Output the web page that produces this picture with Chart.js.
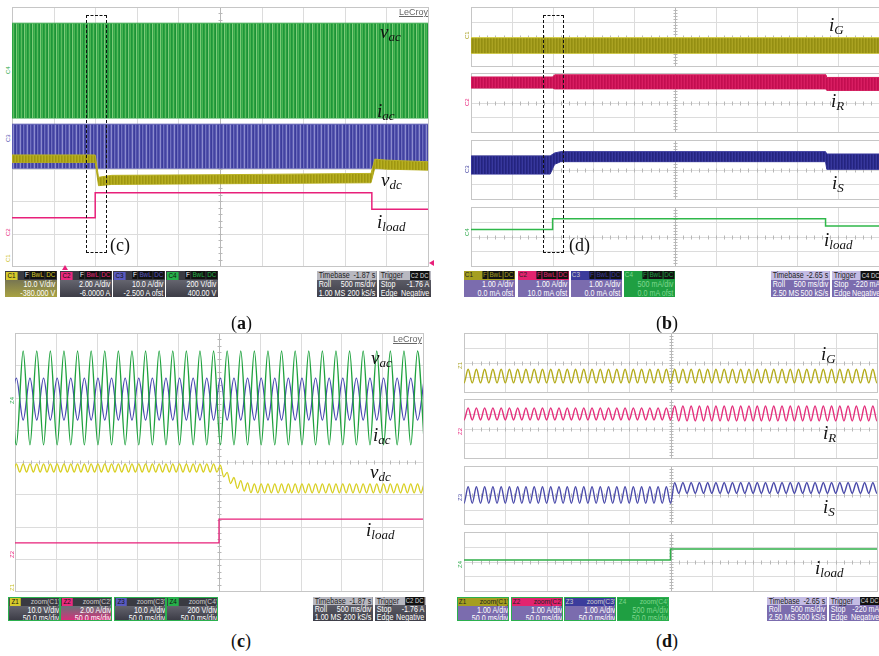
<!DOCTYPE html>
<html>
<head>
<meta charset="utf-8">
<script src="https://cdn.jsdelivr.net/npm/chart.js@4.4.0/dist/chart.umd.min.js"></script>
<style>
body{margin:0;width:879px;height:656px;background:#fff;position:relative;overflow:hidden;font-family:"Liberation Sans",Arial,sans-serif}
.lbl{position:absolute;font-family:"Liberation Serif","Times New Roman",serif;font-style:italic;font-size:19px;color:#111;line-height:1;white-space:nowrap}
.lbl sub{font-size:13px;position:relative;top:3px;vertical-align:baseline}
.cap{position:absolute;font-family:"Liberation Serif","Times New Roman",serif;font-size:18px;color:#111;line-height:1;white-space:nowrap}
.dash{position:absolute;border:1.5px dashed #111;box-sizing:border-box}
.lec{position:absolute;font-size:9px;color:#666;text-decoration:underline;line-height:1}
.mk{position:absolute;font-size:6px;line-height:1;transform:rotate(-90deg);transform-origin:left top}
.sb{position:absolute;overflow:hidden;color:#fff;font-family:"Liberation Sans",Arial,sans-serif;font-size:8.5px;line-height:8.5px;box-sizing:border-box;white-space:nowrap}
.sb .in{transform:scaleX(0.84);transform-origin:0 0}
.sb .hd{display:flex;justify-content:space-between;align-items:center;font-size:7.5px;padding:0 1px}
.sb .r{display:flex;justify-content:space-between;padding:0 2px}
.sb .tg{padding:0 2px;line-height:8px}
.sb .tgs span{background:#111;padding:0 1px;margin-left:1px;line-height:7px}
</style>
</head>
<body>
<script>
// ---- (a) slow record, 500 ms/div, values in divisions ----
const vacA_t = [0, 10], vacA_hi = [7.50, 7.50], vacA_lo = [4.57, 4.57];
const iacA_t = [0, 10], iacA_hi = [4.38, 4.38], iacA_lo = [3.02, 3.02];
const vdcA_t  = [0, 2.0, 2.08, 2.4, 5.0, 8.63, 8.72, 9.0, 10];
const vdcA_hi = [3.43, 3.43, 2.74, 2.80, 2.82, 2.86, 3.30, 3.27, 3.22];
const vdcA_lo = [3.20, 3.20, 2.48, 2.52, 2.54, 2.57, 3.02, 2.99, 2.96];
const iloadA_t = [0, 2.0, 2.0, 8.65, 8.65, 10];
const iloadA_v = [1.49, 1.49, 2.26, 2.26, 1.75, 1.75];

// ---- (b) slow record, four channels ----
const iGB_t = [0, 10], iGB_hi = [1.92, 1.92], iGB_lo = [0.86, 0.86];
const iRB_t = [0, 2.0, 2.05, 8.7, 8.72, 10];
const iRB_hi = [3.73, 3.73, 3.88, 3.88, 3.70, 3.70];
const iRB_lo = [2.98, 2.98, 2.92, 2.92, 2.82, 2.82];
const iSB_t = [0, 1.94, 2.05, 2.2, 8.69, 8.72, 10];
const iSB_hi = [2.92, 2.92, 3.12, 3.21, 3.21, 3.05, 3.05];
const iSB_lo = [1.69, 1.69, 2.35, 2.53, 2.53, 2.01, 2.01];
const iloadB_t = [0, 2.0, 2.0, 8.69, 8.69, 10];
const iloadB_v = [2.47, 2.47, 3.21, 3.21, 2.71, 2.71];

// ---- (c) zoom 50 ms/div: peaks and troughs of each wave ----
const vacC_t0 = -0.1333, vacC_dt = 0.16667;
const vacC = [7.44,4.53,7.44,4.53,7.44,4.53,7.44,4.53,7.44,4.53,
  7.44,4.53,7.44,4.53,7.44,4.53,7.44,4.53,7.44,4.53,
  7.44,4.53,7.44,4.53,7.44,4.53,7.44,4.53,7.44,4.53,
  7.44,4.53,7.44,4.53,7.44,4.53,7.44,4.53,7.44,4.53,
  7.44,4.53,7.44,4.53,7.44,4.53,7.44,4.53,7.44,4.53,
  7.44,4.53,7.44,4.53,7.44,4.53,7.44,4.53,7.44,4.53,
  7.44,4.53];
const iacC_t0 = -0.1333, iacC_dt = 0.16667;
const iacC = [5.30,6.60,5.30,6.60,5.30,6.60,5.30,6.60,5.30,6.60,
  5.30,6.60,5.30,6.60,5.30,6.60,5.30,6.60,5.30,6.60,
  5.30,6.60,5.30,6.60,5.30,6.60,5.30,6.60,5.30,6.60,
  5.30,6.60,5.30,6.60,5.30,6.60,5.30,6.60,5.30,6.60,
  5.30,6.60,5.30,6.60,5.30,6.60,5.30,6.60,5.30,6.60,
  5.30,6.60,5.30,6.60,5.30,6.60,5.30,6.60,5.30,6.60,
  5.30,6.60];
const vdcC_t0 = -0.1333, vdcC_dt = 0.08333;
const vdcC = [3.94,3.69,3.94,3.69,3.94,3.69,3.94,3.69,3.94,3.69,
  3.94,3.69,3.94,3.69,3.94,3.69,3.94,3.69,3.94,3.69,
  3.94,3.69,3.94,3.69,3.94,3.69,3.94,3.69,3.94,3.69,
  3.94,3.69,3.94,3.69,3.94,3.69,3.94,3.69,3.94,3.69,
  3.94,3.69,3.94,3.69,3.94,3.69,3.94,3.69,3.94,3.69,
  3.94,3.69,3.94,3.69,3.94,3.69,3.94,3.69,3.94,3.69,
  3.94,3.69,
  3.90,3.54,3.68,3.33,3.52,3.18,3.42,3.10,3.35,3.05,3.32,
  3.04,3.32,3.04,3.32,3.04,3.32,3.04,3.32,3.04,3.32,
  3.04,3.32,3.04,3.32,3.04,3.32,3.04,3.32,3.04,3.32,
  3.04,3.32,3.04,3.32,3.04,3.32,3.04,3.32,3.04,3.32,
  3.04,3.32,3.04,3.32,3.04,3.32,3.04,3.32,3.04,3.32,
  3.04,3.32,3.04,3.32,3.04,3.32,3.04,3.32,3.04,3.32,
  3.04,3.32];
const iloadC_t = [0, 5.0, 5.0, 10];
const iloadC_v = [1.49, 1.49, 2.23, 2.23];

// ---- (d) zoom 50 ms/div ----
const dD_t0 = -0.1, dD_dt = 0.1;
const iGD = [1.54,0.62,1.54,0.62,1.54,0.62,1.54,0.62,1.54,0.62,
  1.54,0.62,1.54,0.62,1.54,0.62,1.54,0.62,1.54,0.62,
  1.54,0.62,1.54,0.62,1.54,0.62,1.54,0.62,1.54,0.62,
  1.54,0.62,1.54,0.62,1.54,0.62,1.54,0.62,1.54,0.62,
  1.54,0.62,1.54,0.62,1.54,0.62,1.54,0.62,1.54,0.62,
  1.54,0.62,1.54,0.62,1.54,0.62,1.54,0.62,1.54,0.62,
  1.54,0.62,1.54,0.62,1.54,0.62,1.54,0.62,1.54,0.62,
  1.54,0.62,1.54,0.62,1.54,0.62,1.54,0.62,1.54,0.62,
  1.54,0.62,1.54,0.62,1.54,0.62,1.54,0.62,1.54,0.62,
  1.54,0.62,1.54,0.62,1.54,0.62,1.54,0.62,1.54,0.62,
  1.54,0.62,1.54];
const iRD = [3.39,2.58,3.39,2.58,3.39,2.58,3.39,2.58,3.39,2.58,
  3.39,2.58,3.39,2.58,3.39,2.58,3.39,2.58,3.39,2.58,
  3.39,2.58,3.39,2.58,3.39,2.58,3.39,2.58,3.39,2.58,
  3.39,2.58,3.39,2.58,3.39,2.58,3.39,2.58,3.39,2.58,
  3.39,2.58,3.39,2.58,3.39,2.58,3.39,2.58,3.39,2.58,
  3.39,
  2.58,3.53,2.51,3.53,2.51,3.53,2.51,3.53,2.51,3.53,
  2.51,3.53,2.51,3.53,2.51,3.53,2.51,3.53,2.51,3.53,
  2.51,3.53,2.51,3.53,2.51,3.53,2.51,3.53,2.51,3.53,
  2.51,3.53,2.51,3.53,2.51,3.53,2.51,3.53,2.51,3.53,
  2.51,3.53,2.51,3.53,2.51,3.53,2.51,3.53,2.51,3.53,
  2.51,3.53];
const iSD = [2.57,1.43,2.57,1.43,2.57,1.43,2.57,1.43,2.57,1.43,
  2.57,1.43,2.57,1.43,2.57,1.43,2.57,1.43,2.57,1.43,
  2.57,1.43,2.57,1.43,2.57,1.43,2.57,1.43,2.57,1.43,
  2.57,1.43,2.57,1.43,2.57,1.43,2.57,1.43,2.57,1.43,
  2.57,1.43,2.57,1.43,2.57,1.43,2.57,1.43,2.57,1.43,
  2.57,
  1.43,2.84,2.12,2.84,2.12,2.84,2.12,2.84,2.12,2.84,
  2.12,2.84,2.12,2.84,2.12,2.84,2.12,2.84,2.12,2.84,
  2.12,2.84,2.12,2.84,2.12,2.84,2.12,2.84,2.12,2.84,
  2.12,2.84,2.12,2.84,2.12,2.84,2.12,2.84,2.12,2.84,
  2.12,2.84,2.12,2.84,2.12,2.84,2.12,2.84,2.12,2.84,
  2.12,2.84];
const iloadD_t = [0, 5.0, 5.0, 10];
const iloadD_v = [2.10, 2.10, 2.85, 2.85];

// grid of the scope screen
const scopeGrid = {
  id: 'scopeGrid',
  beforeDatasetsDraw(chart, args, opt) {
    const {ctx, scales: {x, y}} = chart;
    const yd = opt.ydiv;
    const X = v => Math.round(x.getPixelForValue(v)) + 0.5;
    const Y = v => Math.round(y.getPixelForValue(v)) + 0.5;
    ctx.save();
    ctx.lineWidth = 1;
    ctx.strokeStyle = '#dcdcdc';
    ctx.beginPath();
    for (let i = 1; i < 10; i++) { ctx.moveTo(X(i), Y(0)); ctx.lineTo(X(i), Y(yd)); }
    for (let j = 1; j < yd; j++) { ctx.moveTo(X(0), Y(j)); ctx.lineTo(X(10), Y(j)); }
    ctx.stroke();
    ctx.strokeStyle = '#b8b8b8';
    ctx.beginPath();
    const cx = X(5), cy = Y(yd / 2);
    for (let i = 0; i <= 50; i++) { ctx.moveTo(X(i / 5), cy - 2); ctx.lineTo(X(i / 5), cy + 2); }
    for (let j = 0; j <= yd * 5; j++) { ctx.moveTo(cx - 2, Y(j / 5)); ctx.lineTo(cx + 2, Y(j / 5)); }
    ctx.moveTo(cx, Y(0)); ctx.lineTo(cx, Y(yd));
    ctx.stroke();
    ctx.strokeStyle = '#c6c6c6';
    ctx.strokeRect(X(0), Y(yd), X(10) - X(0), Y(0) - Y(yd));
    ctx.restore();
  }
};

function stripes(cols) {
  const c = document.createElement('canvas');
  c.width = cols.length; c.height = 1;
  const g = c.getContext('2d');
  cols.forEach((col, i) => { g.fillStyle = col; g.fillRect(i, 0, 1, 1); });
  return g.createPattern(c, 'repeat');
}
const pts = (t, v) => t.map((tt, i) => ({x: tt, y: v[i]}));
const wave = (t0, dt, v) => v.map((vv, i) => ({x: t0 + i * dt, y: vv}));

// two edges of a dense trace, filled between them
function band(t, hi, lo, fillStyle, edge, order) {
  return [
    {data: pts(t, hi), borderColor: edge, borderWidth: 1, backgroundColor: fillStyle, fill: '+1', order},
    {data: pts(t, lo), borderColor: edge, borderWidth: 1, fill: false, order}
  ];
}
function line(data, color, w, smooth, order) {
  const d = {data, borderColor: color, borderWidth: w, fill: false, order: order || 0};
  if (smooth) d.cubicInterpolationMode = 'monotone';
  return d;
}

function scope(left, top, w, h, ydiv, datasets) {
  const c = document.createElement('canvas');
  c.width = w + 2; c.height = h + 2;
  c.style.cssText = 'position:absolute;left:' + (left - 1) + 'px;top:' + (top - 1) + 'px';
  document.body.appendChild(c);
  new Chart(c, {
    type: 'line',
    data: {datasets},
    options: {
      responsive: false, animation: false, devicePixelRatio: 1,
      layout: {padding: 1},
      elements: {point: {radius: 0}, line: {tension: 0}},
      scales: {
        x: {type: 'linear', min: 0, max: 10, display: false},
        y: {type: 'linear', min: 0, max: ydiv, display: false}
      },
      plugins: {legend: {display: false}, tooltip: {enabled: false}, scopeGrid: {ydiv}}
    },
    plugins: [scopeGrid]
  });
}

// (a)
scope(12, 7, 416, 259, 8, [
  ...band(vacA_t, vacA_hi, vacA_lo, stripes(['#1e9638', '#2ca444', '#5cbc5e', '#2a9e40', '#1b9236', '#7ccb78', '#34a84a', '#48b452']), '#3aa94c', 3),
  ...band(iacA_t, iacA_hi, iacA_lo, stripes(['#4343a2', '#5b5bb2', '#8c8cce', '#4a4aa6', '#3c3c9c', '#7070c0', '#5050aa']), '#5a5ab0', 2),
  ...band(vdcA_t, vdcA_hi, vdcA_lo, stripes(['#aaa214', '#b6ae22', '#9e9612']), '#bab224', 1),
  line(pts(iloadA_t, iloadA_v), '#e8207a', 1.5, false, 0)
]);
// (b)
scope(471, 7, 408, 59, 4, band(iGB_t, iGB_hi, iGB_lo, stripes(['#9c9618', '#aaa222', '#948e12']), '#d6ce3a', 0));
scope(471, 73, 408, 59, 4, band(iRB_t, iRB_hi, iRB_lo, stripes(['#cc1256', '#d81e62', '#c20e50']), '#d41a5c', 0));
scope(471, 140, 408, 59, 4, band(iSB_t, iSB_hi, iSB_lo, stripes(['#2a2a8c', '#38389c', '#24247e']), '#34349a', 0));
scope(471, 207, 408, 59, 4, [line(pts(iloadB_t, iloadB_v), '#2fb84a', 1.5)]);
// (c)
scope(15, 333, 408, 258, 8, [
  line(wave(vacC_t0, vacC_dt, vacC), '#1fa23e', 1.4, true, 1),
  line(wave(iacC_t0, iacC_dt, iacC), '#4848b0', 1.3, true, 2),
  line(wave(vdcC_t0, vdcC_dt, vdcC), '#d8cf22', 1.3, true, 0),
  line(pts(iloadC_t, iloadC_v), '#e8207a', 1.3, false, 0)
]);
// (d)
scope(464, 333, 413, 59, 4, [line(wave(dD_t0, dD_dt, iGD), '#b4ac1c', 1.4, true)]);
scope(464, 399, 413, 59, 4, [line(wave(dD_t0, dD_dt, iRD), '#e4307c', 1.4, true)]);
scope(464, 466, 413, 58, 4, [line(wave(dD_t0, dD_dt, iSD), '#4a4aaa', 1.4, true)]);
scope(464, 532, 413, 59, 4, [line(pts(iloadD_t, iloadD_v), '#2fae48', 1.5)]);

// status bars
const SX = 0.84;
function wrap(x, y, w, h, style, inner) {
  return '<div class="sb" style="left:' + x + 'px;top:' + y + 'px;width:' + w + 'px;height:' + h + 'px;' + style + '">' +
    '<div class="in" style="width:' + (w / SX).toFixed(1) + 'px">' + inner + '</div></div>';
}
function chBox(x, y, w, h, b) {
  const rh = h < 26 ? 8 : 8.5, hh = h < 26 ? 8 : 9;
  let hd;
  if (b.dark) {
    hd = '<div class="hd" style="height:' + hh + 'px;background:#3a3a42"><span class="tg" style="background:' + b.col + ';color:#111">' + b.tag + '</span>' +
      (b.zoom ? '<span style="color:#ccc;font-size:8px">' + b.zoom + '</span>' :
      '<span class="tgs"><span style="color:#fff">F</span><span style="color:' + b.col + '">BwL</span><span style="color:' + b.col + '">DC</span></span>') + '</div>';
  } else {
    hd = '<div class="hd" style="height:' + hh + 'px;background:' + b.col + ';color:' + (b.hc || '#222') + '"><span>' + b.tag + '</span>' +
      (b.zoom ? '<span style="font-size:8px">' + b.zoom + '</span>' :
      '<span class="tgs"><span style="color:' + b.col + '">F</span><span style="color:' + b.col + '">BwL</span><span style="color:' + b.col + '">DC</span></span>') + '</div>';
  }
  const bg = b.bg || (b.dark ? 'linear-gradient(#7a7a84,#3c3c46)' : '#7b6cae');
  const bd = b.border ? 'border:1px solid ' + b.border + ';' : '';
  return wrap(x, y, w, h, 'background:' + bg + ';' + bd + 'color:' + (b.fc || '#fff'), hd +
    '<div class="r" style="height:' + rh + 'px;line-height:' + rh + 'px;justify-content:flex-end">' + b.r1 + '</div>' +
    '<div class="r" style="height:' + rh + 'px;line-height:' + rh + 'px;justify-content:flex-end">' + b.r2 + '</div>');
}
function tbBox(x, y, w, h, dark, l1, r1, l2, r2, l3, r3, tag) {
  const hb = dark ? '#b8b8c0' : '#c4bce4';
  const bg = dark ? 'linear-gradient(#6a6a74,#3e3e48)' : '#7b6cae';
  const rh = h < 26 ? 8 : 8.5, hh = h < 26 ? 8 : 9;
  const rs = 'height:' + rh + 'px;line-height:' + rh + 'px';
  return wrap(x, y, w, h, 'background:' + bg,
    '<div class="r" style="background:' + hb + ';color:#222;height:' + hh + 'px;line-height:' + hh + 'px"><span>' + l1 + '</span>' +
    (tag ? '<span style="background:#111;color:#ddd;font-size:7px;padding:0 1px">' + tag + '</span>' : '<span>' + r1 + '</span>') + '</div>' +
    '<div class="r" style="' + rs + '"><span>' + l2 + '</span><span>' + r2 + '</span></div>' +
    '<div class="r" style="' + rs + '"><span>' + l3 + '</span><span>' + r3 + '</span></div>');
}
let html = '';
const chA = [
  {tag: 'C1', col: '#d6ca2c', r1: '10.0 V/div', r2: '-380.000 V', bg: 'linear-gradient(#5e5e5a,#a8a242)'},
  {tag: 'C2', col: '#ea2a7e', r1: '2.00 A/div', r2: '-6.0000 A'},
  {tag: 'C3', col: '#5a5ac0', r1: '10.0 A/div', r2: '-2.500 A ofst'},
  {tag: 'C4', col: '#26b04a', r1: '200 V/div', r2: '400.00 V'}
];
[5, 60, 113, 166].forEach((x, i) => { html += chBox(x, 271, 52, 26, Object.assign({dark: true}, chA[i])); });
html += tbBox(317, 271, 60, 26, true, 'Timebase', '-1.87 s', 'Roll', '500 ms/div', '1.00 MS', '200 kS/s');
html += tbBox(379, 271, 52, 26, true, 'Trigger', '', 'Stop', '-1.76 A', 'Edge', 'Negative', 'C2 DC');

const chB = [
  {tag: 'C1', col: '#a59e20', r1: '1.00 A/div', r2: '0.0 mA ofst'},
  {tag: 'C2', col: '#e2236f', r1: '1.00 A/div', r2: '10.0 mA ofst'},
  {tag: 'C3', col: '#3c3c9c', hc: '#ccc', r1: '1.00 A/div', r2: '0.0 mA ofst'},
  {tag: 'C4', col: '#1f9f42', hc: '#7fd890', bg: '#1f9f42', fc: '#7fd890', r1: '500 mA/div', r2: '0.0 mA ofst'}
];
[464, 518, 571, 624].forEach((x, i) => { html += chBox(x, 271, 51, 26, chB[i]); });
html += tbBox(771, 271, 59, 26, false, 'Timebase', '-2.65 s', 'Roll', '500 ms/div', '2.50 MS', '500 kS/s');
html += tbBox(832, 271, 50, 26, false, 'Trigger', '', 'Stop', '-220 mA', 'Edge', 'Negative', 'C4 DC');

const chC = [
  {tag: 'Z1', col: '#d6ca2c', zoom: 'zoom(C1)', r1: '10.0 V/div', r2: '50.0 ms/div'},
  {tag: 'Z2', col: '#ea2a7e', zoom: 'zoom(C2)', r1: '2.00 A/div', r2: '50.0 ms/div', bg: 'linear-gradient(#6e6e78 40%,#d8307a)'},
  {tag: 'Z3', col: '#5a5ac0', zoom: 'zoom(C3)', r1: '10.0 A/div', r2: '50.0 ms/div'},
  {tag: 'Z4', col: '#26b04a', zoom: 'zoom(C4)', r1: '200 V/div', r2: '50.0 ms/div'}
];
[8, 60, 114, 166].forEach((x, i) => { html += chBox(x, 597, 52, 24, Object.assign({dark: true, border: '#2bb04e'}, chC[i])); });
html += tbBox(313, 597, 60, 24, true, 'Timebase', '-1.87 s', 'Roll', '500 ms/div', '1.00 MS', '200 kS/s');
html += tbBox(375, 597, 51, 24, true, 'Trigger', '', 'Stop', '-1.76 A', 'Edge', 'Negative', 'C2 DC');

const chD = [
  {tag: 'Z1', col: '#a59e20', zoom: 'zoom(C1)', r1: '1.00 A/div', r2: '50.0 ms/div'},
  {tag: 'Z2', col: '#e2236f', zoom: 'zoom(C2)', r1: '1.00 A/div', r2: '50.0 ms/div'},
  {tag: 'Z3', col: '#3c3c9c', hc: '#ccc', zoom: 'zoom(C3)', r1: '1.00 A/div', r2: '50.0 ms/div'},
  {tag: 'Z4', col: '#1f9f42', hc: '#7fd890', bg: '#1f9f42', fc: '#7fd890', zoom: 'zoom(C4)', r1: '500 mA/div', r2: '50.0 ms/div'}
];
[457, 511, 564, 617].forEach((x, i) => { html += chBox(x, 597, 52, 24, Object.assign({border: '#2bb04e'}, chD[i])); });
html += tbBox(767, 597, 60, 24, false, 'Timebase', '-2.65 s', 'Roll', '500 ms/div', '2.50 MS', '500 kS/s');
html += tbBox(829, 597, 52, 24, false, 'Trigger', '', 'Stop', '-220 mA', 'Edge', 'Negative', 'C4 DC');

// trace labels
const L = (x, y, a, b) => '<div class="lbl" style="left:' + x + 'px;top:' + y + 'px">' + a + '<sub>' + b + '</sub></div>';
html += L(380, 22, 'v', 'ac') + L(377, 101, 'i', 'ac') + L(381, 170, 'v', 'dc') + L(377, 212, 'i', 'load');
html += L(829, 15, 'i', 'G') + L(831, 91, 'i', 'R') + L(832, 173, 'i', 'S') + L(824, 230, 'i', 'load');
html += L(371, 348, 'v', 'ac') + L(373, 425, 'i', 'ac') + L(370, 462, 'v', 'dc') + L(366, 520, 'i', 'load');
html += L(821, 344, 'i', 'G') + L(823, 423, 'i', 'R') + L(823, 497, 'i', 'S') + L(815, 558, 'i', 'load');

html += '<div class="dash" style="left:86px;top:15px;width:21px;height:238px"></div>';
html += '<div class="dash" style="left:543px;top:15px;width:21px;height:238px"></div>';
html += '<div class="cap" style="left:110px;top:236px">(c)</div>';
html += '<div class="cap" style="left:569px;top:236px">(d)</div>';
html += '<div class="lec" style="left:399px;top:8px">LeCroy</div>';
html += '<div class="lec" style="left:393px;top:335px">LeCroy</div>';

html += '<div class="cap" style="left:231px;top:314px">(<b>a</b>)</div>';
html += '<div class="cap" style="left:656px;top:314px">(<b>b</b>)</div>';
html += '<div class="cap" style="left:231px;top:632px">(<b>c</b>)</div>';
html += '<div class="cap" style="left:656px;top:632px">(<b>d</b>)</div>';

// channel markers on the left edges
const M = (x, y, t, c) => '<div class="mk" style="left:' + x + 'px;top:' + y + 'px;color:' + c + '">' + t + '</div>';
html += M(5, 74, 'C4', '#26a848') + M(5, 142, 'C3', '#5050b0') + M(5, 236, 'C2', '#e8207a') + M(5, 262, 'C1', '#c8be20');
html += M(464, 39, 'C1', '#a8a020') + M(464, 106, 'C2', '#e8207a') + M(464, 173, 'C3', '#4040a0') + M(464, 236, 'C4', '#2aa848');
html += M(9, 404, 'Z4', '#26a848') + M(9, 558, 'Z2', '#e8207a') + M(9, 591, 'Z1', '#c8be20');
html += M(457, 369, 'Z1', '#a8a020') + M(457, 435, 'Z2', '#e8207a') + M(457, 501, 'Z3', '#4040a0') + M(457, 568, 'Z4', '#2aa848');
html += '<div style="position:absolute;left:429px;top:260px;width:0;height:0;border-top:3px solid transparent;border-bottom:3px solid transparent;border-right:5px solid #e8207a"></div>';
html += '<div style="position:absolute;left:62px;top:265px;width:0;height:0;border-left:3px solid transparent;border-right:3px solid transparent;border-bottom:5px solid #e8207a"></div>';

document.body.insertAdjacentHTML('beforeend', html);
</script>
</body>
</html>
